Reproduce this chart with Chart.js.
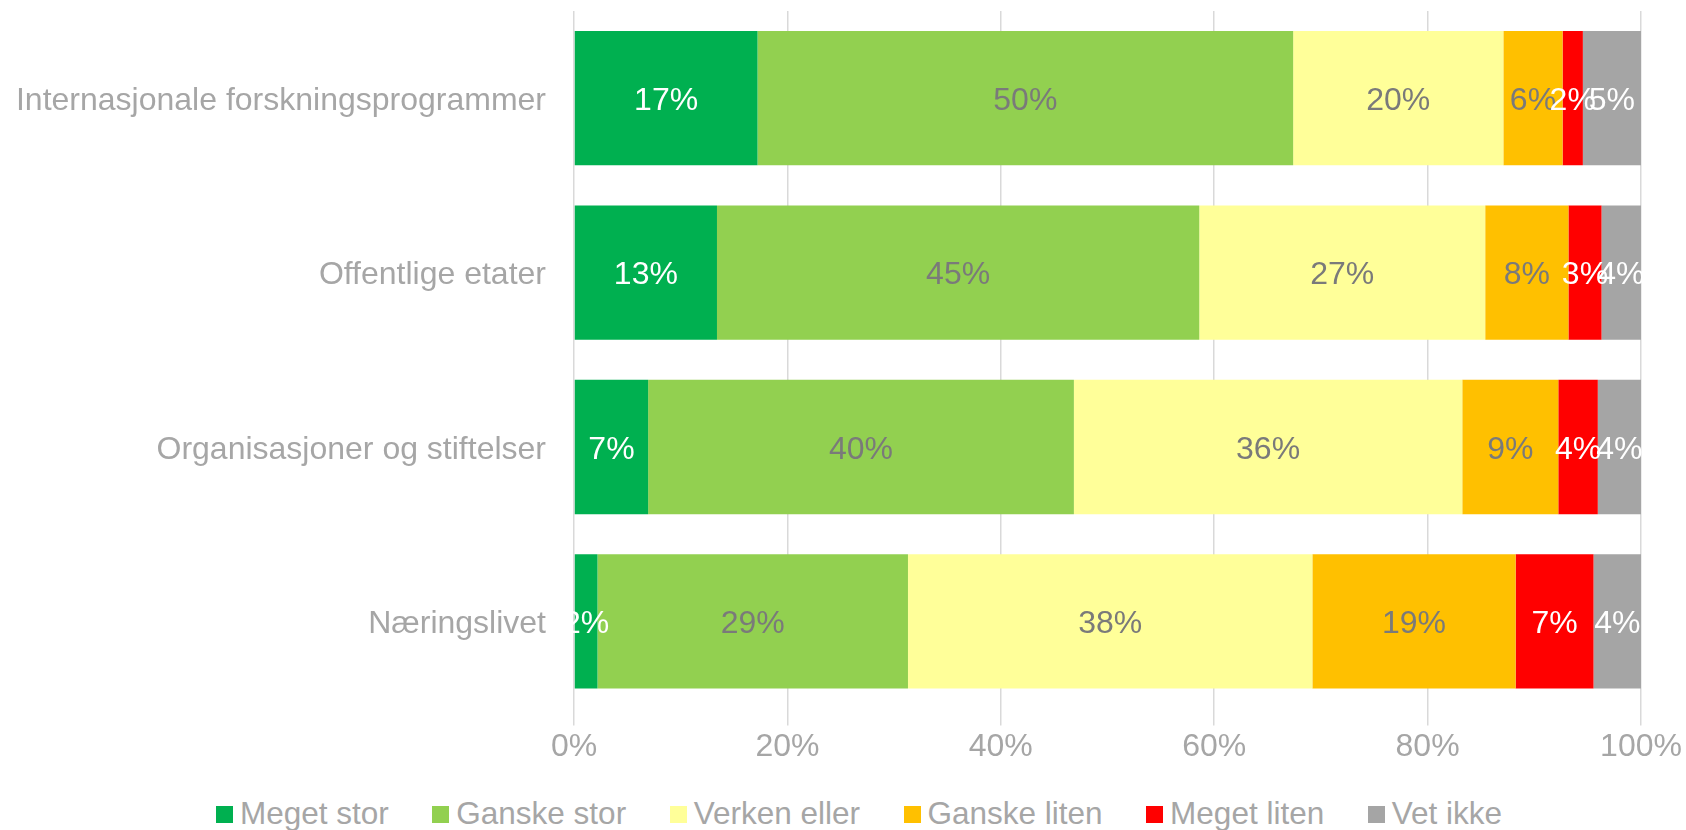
<!DOCTYPE html>
<html>
<head>
<meta charset="utf-8">
<script src="https://cdn.jsdelivr.net/npm/chart.js@4.4.1/dist/chart.umd.min.js"></script>
<style>
	body { margin: 0; background: #fff; }
	#wrap { position: relative; width: 1686px; height: 830px; }
	#chartBox { position: absolute; left: 0; top: 0; width: 1686px; height: 768px; }
	#legend { position: absolute; left: 216px; top: 795px; display: flex; align-items: center;
		font-family: "Liberation Sans", Arial, sans-serif; font-size: 31.5px; color: #a6a6a6; }
	#legend .item { display: flex; align-items: center; margin-right: 43.5px; }
	#legend .box { width: 17px; height: 17px; margin-right: 7px; margin-top: 2px; }
</style>
</head>
<body>
<div id="wrap">
	<div id="chartBox"><canvas id="barChart"></canvas></div>
	<div id="legend"></div>
</div>
<script>
// categories and answers (percent of respondents)
const categories = ["Internasjonale forskningsprogrammer", "Offentlige etater", "Organisasjoner og stiftelser", "Næringslivet"];
const seriesNames = ["Meget stor", "Ganske stor", "Verken eller", "Ganske liten", "Meget liten", "Vet ikke"];

const megetStor   = [17.2, 13.4, 6.95, 2.2];
const ganskeStor  = [50.2, 45.2, 39.9, 29.1];
const verkenEller = [19.7, 26.8, 36.4, 37.9];
const ganskeLiten = [5.55, 7.8, 9.0, 19.05];
const megetLiten  = [1.9, 3.1, 3.7, 7.3];
const vetIkke     = [5.45, 3.7, 4.05, 4.45];

const xTicks = [0, 20, 40, 60, 80, 100];

const seriesValues = [megetStor, ganskeStor, verkenEller, ganskeLiten, megetLiten, vetIkke];
const colors = ["#00B050", "#92D050", "#FFFF99", "#FFC000", "#FF0000", "#A5A5A5"];
const labelColors = ["#ffffff", "#7a7a7a", "#7a7a7a", "#7a7a7a", "#ffffff", "#ffffff"];

const fontFamily = '"Liberation Sans", Arial, sans-serif';
const axisGrey = "#a6a6a6";

// labels in the middle of every segment
const barLabels = {
	id: 'barLabels',
	afterDatasetsDraw(chart) {
		const ctx = chart.ctx;
		ctx.save();
		ctx.font = '32px ' + fontFamily;
		ctx.textAlign = 'center';
		ctx.textBaseline = 'middle';
		chart.data.datasets.forEach((ds, i) => {
			ctx.fillStyle = labelColors[i];
			chart.getDatasetMeta(i).data.forEach((bar, j) => {
				const p = bar.getProps(['x', 'y', 'base'], true);
				ctx.fillText(Math.round(ds.data[j]) + '%', (p.x + p.base) / 2, p.y + 3);
			});
		});
		ctx.restore();
	}
};

const barData = {
	labels: categories,
	datasets: seriesNames.map((name, i) => ({
		label: name,
		data: seriesValues[i],
		backgroundColor: colors[i],
		borderWidth: 0,
		barPercentage: 0.77,
		categoryPercentage: 1
	}))
};

const barConfig = {
	type: "bar",
	data: barData,
	options: {
		indexAxis: 'y',
		responsive: true,
		maintainAspectRatio: false,
		animation: false,
		layout: { padding: { top: 11, left: 16, right: 45, bottom: 0 } },
		plugins: {
			legend: { display: false },
			tooltip: { enabled: false }
		},
		scales: {
			x: {
				stacked: true,
				min: 0,
				max: 100,
				afterBuildTicks: axis => { axis.ticks = xTicks.map(v => ({ value: v })); },
				border: { display: false },
				grid: { color: "#d9d9d9", lineWidth: 1.5, tickLength: 17, drawTicks: true },
				ticks: {
					color: axisGrey,
					font: { family: fontFamily, size: 32 },
					padding: 2,
					maxRotation: 0,
					callback: v => v + '%'
				}
			},
			y: {
				stacked: true,
				border: { display: false },
				grid: { display: false, drawTicks: false },
				ticks: {
					color: axisGrey,
					font: { family: fontFamily, size: 32 },
					padding: 28,
					labelOffset: 3
				},
				// fixed axis width, and the tick padding should not push the plot down
				afterFit: scale => {
					scale.width = 558;
					scale.paddingTop = 0;
					scale.paddingBottom = 0;
				}
			}
		}
	},
	plugins: [barLabels]
};

const barChart = new Chart(document.getElementById("barChart"), barConfig);

// legend
const legend = document.getElementById('legend');
seriesNames.forEach((name, i) => {
	const item = document.createElement('div');
	item.className = 'item';
	item.innerHTML = '<span class="box" style="background:' + colors[i] + '"></span><span>' + name + '</span>';
	legend.appendChild(item);
});
</script>
</body>
</html>
